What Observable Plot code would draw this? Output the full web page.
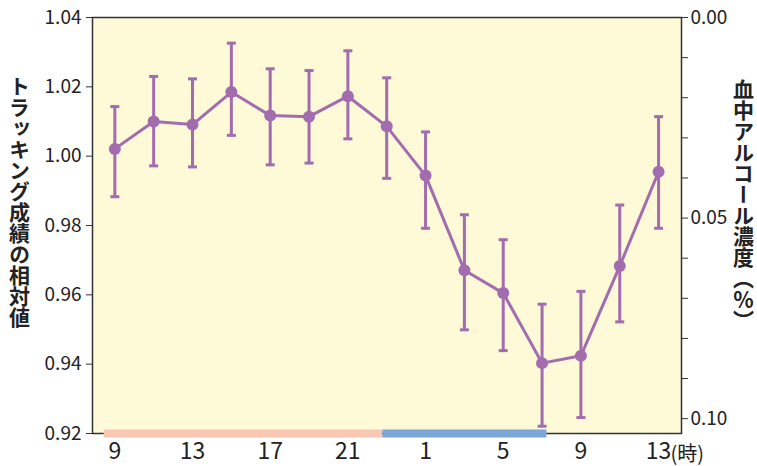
<!DOCTYPE html>
<html>
<head>
<meta charset="utf-8">
<script src="https://cdn.jsdelivr.net/npm/d3@7"></script>
<script src="https://cdn.jsdelivr.net/npm/@observablehq/plot@0.6"></script>
<style>
  body { margin: 0; background: #fff; }
  #wrap { position: relative; width: 757px; height: 466px; font-family: "Noto Sans CJK JP", "Noto Sans", sans-serif; color: #222; }
  .vtitle { writing-mode: vertical-rl; font-size: 21px; font-weight: bold; fill: #222; }
</style>
</head>
<body>
<div id="wrap"></div>
<script>
// Time of measurement (hours from 9:00 day 1; 25 = 1:00 next day)
const hours = [9, 11, 13, 15, 17, 19, 21, 23, 25, 27, 29, 31, 33, 35, 37];
const means = [1.0021, 1.0100, 1.0091, 1.0185, 1.0117, 1.0114, 1.0173, 1.0086, 0.9944, 0.9671, 0.9605, 0.9403, 0.9424, 0.9683, 0.9955];
const highs = [1.0143, 1.0230, 1.0223, 1.0326, 1.0252, 1.0247, 1.0304, 1.0226, 1.0070, 0.9831, 0.9759, 0.9573, 0.9610, 0.9859, 1.0114];
const lows  = [0.9883, 0.9972, 0.9969, 1.0060, 0.9975, 0.9980, 1.0050, 0.9936, 0.9792, 0.9499, 0.9439, 0.9221, 0.9246, 0.9522, 0.9792];

const xTicks = [9, 13, 17, 21, 25, 29, 33, 37];
const xLabels = ["9", "13", "17", "21", "1", "5", "9", "13"];
const yTicks = [0.92, 0.94, 0.96, 0.98, 1.00, 1.02, 1.04];
const rightTicks = [0, 0.01, 0.02, 0.03, 0.04, 0.05, 0.06, 0.07, 0.08, 0.09, 0.10];
const rightLabels = ["0.00", "", "", "", "", "0.05", "", "", "", "", "0.10"];
const leftTitle = "トラッキング成績の相対値";
const rightTitle = "血中アルコール濃度（％）";

// Periods shown by bars along the bottom
const periodStart = [8.45, 22.8];
const periodEnd = [22.8, 31.25];
const periodColor = ["#f8c8b3", "#7ba6d8"];

const purple = "#a36cae";
const yDomain = [0.92, 1.04];
const rightDomainMax = 0.1037; // right axis: 0 at top, this value at the bottom
const toLeft = r => yDomain[1] - r * (yDomain[1] - yDomain[0]) / rightDomainMax;

const data = hours.map((h, i) => ({h, m: means[i], lo: lows[i], hi: highs[i]}));
const periods = periodStart.map((s, i) => ({s, e: periodEnd[i], c: periodColor[i]}));
const xMap = new Map(xTicks.map((t, i) => [t, xLabels[i]]));
const rTicksLeft = rightTicks.map(toLeft);
const rMap = new Map(rTicksLeft.map((t, i) => [t, rightLabels[i]]));

const capSymbol = {
  draw(context, size) {
    const w = Math.sqrt(size / Math.PI);
    context.moveTo(-w, 0);
    context.lineTo(w, 0);
  }
};

const chart = Plot.plot({
  width: 757,
  height: 466,
  marginLeft: 92,
  marginRight: 76,
  marginTop: 17,
  marginBottom: 33,
  style: {fontFamily: '"Noto Sans CJK JP", "Noto Sans", sans-serif', color: "#333", background: "transparent"},
  x: {domain: [7.85, 38.18]},
  y: {domain: yDomain},
  marks: [
    Plot.frame({fill: "#fef9d7", stroke: null}),
    Plot.ruleX(data, {x: "h", y1: "lo", y2: "hi", stroke: purple, strokeWidth: 3}),
    Plot.dot(data, {x: "h", y: "lo", symbol: capSymbol, r: 4.5, stroke: purple, strokeWidth: 3, fill: "none"}),
    Plot.dot(data, {x: "h", y: "hi", symbol: capSymbol, r: 4.5, stroke: purple, strokeWidth: 3, fill: "none"}),
    Plot.line(data, {x: "h", y: "m", stroke: purple, strokeWidth: 3}),
    Plot.dot(data, {x: "h", y: "m", r: 6, fill: purple, stroke: null}),
    Plot.frame({stroke: "#333", strokeWidth: 1.5}),
    Plot.ruleY(periods, {y: yDomain[0], x1: "s", x2: "e", stroke: "c", strokeWidth: 8}),
    Plot.axisY(yTicks, {anchor: "left", tickSize: 6, tickPadding: 5, tickFormat: d => d.toFixed(2), fontSize: 19, label: null, stroke: "#333", fill: "#222"}),
    Plot.axisY(rTicksLeft, {anchor: "right", tickSize: 6, tickPadding: 3, tickFormat: d => rMap.get(d), fontSize: 19, label: null, stroke: "#333", fill: "#222"}),
    Plot.axisX(xTicks, {anchor: "bottom", tickSize: 0, tickPadding: 9, tickFormat: d => xMap.get(d), fontSize: 23, label: null, fill: "#222"}),
    Plot.text([xTicks[xTicks.length - 1]], {x: d => d, y: yDomain[0], text: () => "(時)", dx: 12, dy: 21, textAnchor: "start", fontSize: 20, fill: "#222"})
  ]
});

// Vertical axis titles (vertical Japanese writing)
const svg = d3.select(chart);
svg.append("text").attr("class", "vtitle").attr("text-anchor", "start").attr("x", 19.5).attr("y", 76).text(leftTitle);
svg.append("text").attr("class", "vtitle").attr("text-anchor", "start").attr("x", 743.5).attr("y", 79).text(rightTitle);

document.getElementById("wrap").appendChild(chart);
</script>
</body>
</html>
